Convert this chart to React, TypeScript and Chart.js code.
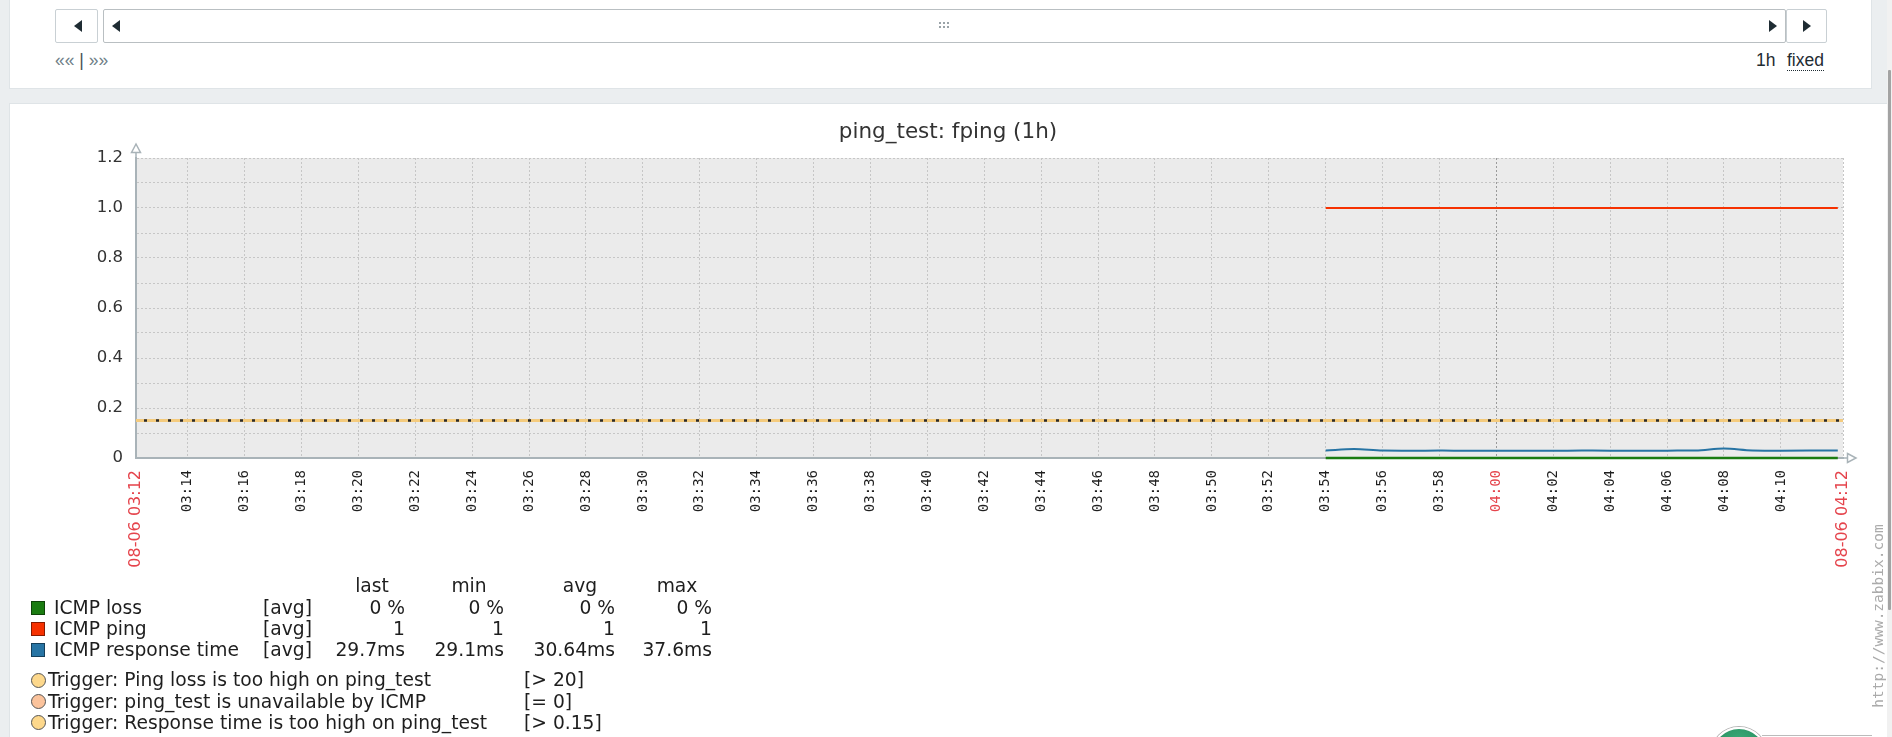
import React, { useEffect, useRef } from "react";
import { Chart, registerables } from "chart.js";

Chart.register(...registerables);

// ---------------- data ----------------
const graphTitle = "ping_test: fping (1h)";
const periodLabel = "1h";
const periodMode = "fixed";
const navLeft = "««";
const navRight = "»»";
const rangeStart = "03:12:11";
const rangeEnd = "04:12:11";
const rangeStartLabel = "08-06 03:12";
const rangeEndLabel = "08-06 04:12";
const xTickTimes = [
  "03:14", "03:16", "03:18", "03:20", "03:22", "03:24", "03:26", "03:28", "03:30", "03:32",
  "03:34", "03:36", "03:38", "03:40", "03:42", "03:44", "03:46", "03:48", "03:50", "03:52",
  "03:54", "03:56", "03:58", "04:00", "04:02", "04:04", "04:06", "04:08", "04:10",
];
const highlightedTimes = ["04:00"];
const yTickValues = [0, 0.1, 0.2, 0.3, 0.4, 0.5, 0.6, 0.7, 0.8, 0.9, 1.0, 1.1, 1.2];
const yTickLabels = ["0", "", "0.2", "", "0.4", "", "0.6", "", "0.8", "", "1.0", "", "1.2"];

const sampleTimes = [
  "03:54", "03:55", "03:56", "03:57", "03:58", "03:59", "04:00", "04:01", "04:02", "04:03",
  "04:04", "04:05", "04:06", "04:07", "04:08", "04:09", "04:10", "04:11", "04:12",
];
const icmpLoss = [0, 0, 0, 0, 0, 0, 0, 0, 0, 0, 0, 0, 0, 0, 0, 0, 0, 0, 0];
const icmpPing = [1, 1, 1, 1, 1, 1, 1, 1, 1, 1, 1, 1, 1, 1, 1, 1, 1, 1, 1];
const icmpResponseTime = [
  0.0302, 0.0358, 0.0298, 0.0294, 0.0296, 0.0293, 0.0295, 0.0292, 0.0291, 0.0296,
  0.0294, 0.0293, 0.0295, 0.0299, 0.0376, 0.0301, 0.0294, 0.0296, 0.0297,
];
const triggerThreshold = 0.15;

const seriesNames = ["ICMP loss", "ICMP ping", "ICMP response time"];
const seriesColors = ["#1A7C11", "#F63100", "#2774A4"];
const seriesFunctions = ["[avg]", "[avg]", "[avg]"];
const statHeaders = ["last", "min", "avg", "max"];
const lossStats = ["0 %", "0 %", "0 %", "0 %"];
const pingStats = ["1", "1", "1", "1"];
const responseStats = ["29.7ms", "29.1ms", "30.64ms", "37.6ms"];
const triggerNames = [
  "Trigger: Ping loss is too high on ping_test",
  "Trigger: ping_test is unavailable by ICMP",
  "Trigger: Response time is too high on ping_test",
];
const triggerConditions = ["[> 20]", "[= 0]", "[> 0.15]"];
const triggerColors = ["#FDD88C", "#FBC39C", "#FDD88C"];
const watermark = "http://www.zabbix.com";

// ---------------- helpers ----------------
const toMin = (t: string) => {
  const p = t.split(":").map(Number);
  return p[0] * 60 + p[1] + (p[2] || 0) / 60;
};
const pad2 = (n: number) => String(n).padStart(2, "0");
const xMin = toMin(rangeStart);
const xMax = toMin(rangeEnd);
const near = (a: number, b: number) => Math.abs(a - b) < 1e-6;
const isEdge = (v: number) => near(v, xMin) || near(v, xMax);
const isHighlighted = (v: number) => isEdge(v) || highlightedTimes.some((t) => near(toMin(t), v));
const xTickValues = [xMin, ...xTickTimes.map(toMin), xMax];

const AXIS = "#A9B3B8";
const GRID = "#C6C6C6";
const GRID_MAJOR = "#9A9A9A";
const RED = "#E5444C";
const FONT = "'DejaVu Sans', sans-serif";
const MONO = "'DejaVu Sans Mono', monospace";
const UI_FONT = "'Liberation Sans', Arial, sans-serif";

const plotBackground = {
  id: "plotBackground",
  beforeDraw(chart: any) {
    const { ctx, chartArea } = chart;
    ctx.save();
    ctx.fillStyle = "#EBEBEB";
    ctx.fillRect(chartArea.left, chartArea.top, chartArea.right - chartArea.left, chartArea.bottom - chartArea.top);
    ctx.restore();
  },
};

const axisArrows = {
  id: "axisArrows",
  afterDraw(chart: any) {
    const { ctx, chartArea } = chart;
    const { left, right, top, bottom } = chartArea;
    ctx.save();
    ctx.strokeStyle = AXIS;
    ctx.fillStyle = "#FFFFFF";
    ctx.lineWidth = 1.5;
    ctx.beginPath();
    ctx.moveTo(left, top);
    ctx.lineTo(left, top - 6);
    ctx.stroke();
    ctx.beginPath();
    ctx.moveTo(left - 4.5, top - 5.5);
    ctx.lineTo(left, top - 14);
    ctx.lineTo(left + 4.5, top - 5.5);
    ctx.closePath();
    ctx.fill();
    ctx.stroke();
    ctx.beginPath();
    ctx.moveTo(right, bottom);
    ctx.lineTo(right + 5, bottom);
    ctx.stroke();
    ctx.beginPath();
    ctx.moveTo(right + 4.5, bottom - 4.5);
    ctx.lineTo(right + 13, bottom);
    ctx.lineTo(right + 4.5, bottom + 4.5);
    ctx.closePath();
    ctx.fill();
    ctx.stroke();
    ctx.restore();
  },
};

function ZabbixGraph() {
  const ref = useRef<HTMLCanvasElement | null>(null);
  useEffect(() => {
    if (!ref.current) return;
    const pts = (vals: number[]) => sampleTimes.map((t, i) => ({ x: toMin(t), y: vals[i] }));
    const triggerPts = [
      { x: xMin, y: triggerThreshold },
      { x: xMax, y: triggerThreshold },
    ];
    const chart = new Chart(ref.current, {
      type: "line",
      data: {
        datasets: [
          { label: seriesNames[0], data: pts(icmpLoss), borderColor: seriesColors[0], borderWidth: 2.5, pointRadius: 0, clip: false },
          { label: seriesNames[1], data: pts(icmpPing), borderColor: seriesColors[1], borderWidth: 2.2, pointRadius: 0, clip: false },
          { label: seriesNames[2], data: pts(icmpResponseTime), borderColor: seriesColors[2], borderWidth: 2, pointRadius: 0, cubicInterpolationMode: "monotone", clip: false },
          { label: triggerNames[2], data: triggerPts, borderColor: "#2A2A2A", borderWidth: 2.4, borderDash: [3, 9], borderDashOffset: 4, pointRadius: 0, clip: false },
          { label: triggerNames[2] + " band", data: triggerPts, borderColor: "#F4CB7E", borderWidth: 3.2, pointRadius: 0, clip: false },
        ],
      },
      options: {
        animation: false,
        responsive: false,
        events: [],
        layout: { padding: { left: 44, right: 44, top: 0, bottom: 159 } },
        plugins: {
          legend: { display: false },
          tooltip: { enabled: false },
          title: {
            display: true,
            text: graphTitle,
            color: "#333333",
            font: { family: FONT, size: 21.5, weight: "normal", lineHeight: 1.2 },
            padding: { top: 17, bottom: 12.2 },
          },
        },
        scales: {
          x: {
            type: "linear",
            min: xMin,
            max: xMax,
            afterBuildTicks: (s: any) => {
              s.ticks = xTickValues.map((v) => ({ value: v }));
            },
            afterFit: (s: any) => {
              s.height = 120;
            },
            ticks: {
              autoSkip: false,
              minRotation: 90,
              maxRotation: 90,
              padding: 12,
              callback: (v: any) => {
                const n = Number(v);
                if (near(n, xMin)) return rangeStartLabel;
                if (near(n, xMax)) return rangeEndLabel;
                const m = Math.round(n);
                return pad2(Math.floor(m / 60)) + ":" + pad2(m % 60);
              },
              color: (c: any) => (c.tick && isHighlighted(c.tick.value) ? RED : "#1E1E1E"),
              font: (c: any) =>
                c.tick && isEdge(c.tick.value) ? { family: FONT, size: 16 } : { family: MONO, size: 14 },
            },
            grid: {
              drawTicks: false,
              lineWidth: 1,
              color: (c: any) => {
                if (!c.tick) return GRID;
                if (near(c.tick.value, xMin)) return "rgba(0,0,0,0)";
                if (highlightedTimes.some((t) => near(toMin(t), c.tick.value))) return GRID_MAJOR;
                return GRID;
              },
            },
            border: { display: true, color: AXIS, width: 2, dash: [2, 2] },
          },
          y: {
            type: "linear",
            min: 0,
            max: 1.2,
            afterBuildTicks: (s: any) => {
              s.ticks = yTickValues.map((v) => ({ value: v }));
            },
            afterFit: (s: any) => {
              s.width = 83;
            },
            ticks: {
              autoSkip: false,
              padding: 13,
              color: "#333333",
              font: { family: FONT, size: 16.5 },
              callback: (v: any) => {
                const i = yTickValues.findIndex((y) => near(y, Number(v)));
                return i >= 0 ? yTickLabels[i] : "";
              },
            },
            grid: {
              drawTicks: false,
              lineWidth: 1,
              color: (c: any) => (c.tick && near(c.tick.value, 0) ? "rgba(0,0,0,0)" : GRID),
            },
            border: { display: true, color: AXIS, width: 2, dash: [2, 2] },
          },
        },
      },
      plugins: [plotBackground, axisArrows],
    } as any);
    return () => chart.destroy();
  }, []);
  return (
    <canvas
      ref={ref}
      width={1878}
      height={634}
      style={{ position: "absolute", left: 9, top: 103, width: 1878, height: 634 }}
    />
  );
}

const abs = (o: any) => ({ position: "absolute" as const, whiteSpace: "nowrap" as const, ...o });

function Triangle({ x, y, dir }: { x: number; y: number; dir: "left" | "right" }) {
  const side = dir === "left" ? { borderRight: "8px solid #1F2C33" } : { borderLeft: "8px solid #1F2C33" };
  return (
    <div
      style={abs({
        left: x - 4,
        top: y - 6.5,
        width: 0,
        height: 0,
        borderTop: "6.5px solid transparent",
        borderBottom: "6.5px solid transparent",
        ...side,
      })}
    />
  );
}

function Legend() {
  const rowsY = [607.5, 628.8, 650];
  const trigY = [680, 701.5, 722.5];
  const statRight = [405, 504, 615, 712];
  const headCenter = [372, 469, 580, 677];
  const stats = [lossStats, pingStats, responseStats];
  const txt = { fontFamily: FONT, fontSize: 18.7, color: "#1E1E1E", lineHeight: "22px", height: 22 };
  return (
    <>
      {statHeaders.map((h, i) => (
        <div key={h} style={abs({ ...txt, left: headCenter[i], top: 586 - 11, transform: "translateX(-50%)" })}>{h}</div>
      ))}
      {seriesNames.map((n, r) => (
        <React.Fragment key={n}>
          <div
            style={abs({
              left: 31,
              top: rowsY[r] - 7,
              width: 12,
              height: 12,
              background: seriesColors[r],
              border: "1px solid rgba(0,0,0,0.45)",
            })}
          />
          <div style={abs({ ...txt, left: 54, top: rowsY[r] - 11 })}>{n}</div>
          <div style={abs({ ...txt, left: 263, top: rowsY[r] - 11 })}>{seriesFunctions[r]}</div>
          {stats[r].map((s, c) => (
            <div key={c} style={abs({ ...txt, left: statRight[c], top: rowsY[r] - 11, transform: "translateX(-100%)" })}>
              {s}
            </div>
          ))}
        </React.Fragment>
      ))}
      {triggerNames.map((t, r) => (
        <React.Fragment key={t}>
          <div
            style={abs({
              left: 31,
              top: trigY[r] - 7.5,
              width: 13,
              height: 13,
              borderRadius: "50%",
              background: triggerColors[r],
              border: "1px solid #555",
            })}
          />
          <div style={abs({ ...txt, left: 48, top: trigY[r] - 11 })}>{t}</div>
          <div style={abs({ ...txt, left: 524, top: trigY[r] - 11 })}>{triggerConditions[r]}</div>
        </React.Fragment>
      ))}
    </>
  );
}

export default function App() {
  const grip = [];
  for (let r = 0; r < 2; r++)
    for (let c = 0; c < 3; c++)
      grip.push(<div key={r + "-" + c} style={abs({ left: 939 + c * 4, top: 22 + r * 4, width: 2, height: 2, background: "#9AA3A8" })} />);
  return (
    <div style={{ position: "absolute", left: 0, top: 0, width: 1892, height: 737, overflow: "hidden", background: "#EBEEF0" }}>
      {/* time selector panel */}
      <div style={abs({ left: 9, top: -1, width: 1861, height: 88, background: "#FFFFFF", border: "1px solid #DFE4E7" })} />
      <div style={abs({ left: 55, top: 9, width: 41, height: 32, background: "#FFFFFF", border: "1px solid #C9D0D4", borderRadius: 2 })} />
      <Triangle x={78} y={26} dir="left" />
      <div style={abs({ left: 103, top: 9, width: 1681, height: 32, background: "#FFFFFF", border: "1px solid #B9BFC2", borderRadius: 2 })} />
      <Triangle x={116} y={26} dir="left" />
      <Triangle x={1773} y={26} dir="right" />
      {grip}
      <div style={abs({ left: 1786, top: 9, width: 39, height: 32, background: "#FFFFFF", border: "1px solid #C9D0D4", borderRadius: 2 })} />
      <Triangle x={1807} y={26} dir="right" />
      <div style={abs({ left: 55, top: 50, fontFamily: UI_FONT, fontSize: 17.5, lineHeight: "20px", color: "#6F7F88" })}>
        {navLeft} <span style={{ color: "#4A5257" }}>|</span> {navRight}
      </div>
      <div style={abs({ left: 1756, top: 50, fontFamily: UI_FONT, fontSize: 17.5, lineHeight: "20px", color: "#1F2C33" })}>
        {periodLabel}
      </div>
      <div
        style={abs({
          left: 1787,
          top: 50,
          fontFamily: UI_FONT,
          fontSize: 17.5,
          lineHeight: "20px",
          color: "#1F2C33",
          borderBottom: "1px dotted #1F2C33",
        })}
      >
        {periodMode}
      </div>

      {/* graph panel */}
      <div style={abs({ left: 9, top: 103, width: 1878, height: 660, background: "#FFFFFF", borderTop: "1px solid #DFE4E7", borderLeft: "1px solid #DFE4E7" })} />
      <ZabbixGraph />
      <Legend />
      <div
        style={abs({
          left: 1878,
          top: 616,
          fontFamily: MONO,
          fontSize: 14.5,
          lineHeight: "16px",
          color: "#ABABAB",
          transform: "translate(-50%, -50%) rotate(-90deg)",
        })}
      >
        {watermark}
      </div>
      {/* scrollbar */}
      <div style={abs({ left: 1887, top: 0, width: 5, height: 737, background: "#F1F1F1" })} />
      <div style={abs({ left: 1888, top: 70, width: 3, height: 540, background: "#A3A3A3", borderRadius: 1 })} />
      {/* footer fragment */}
      <div style={abs({ left: 1762, top: 735, width: 110, height: 1, background: "#BBBBBB" })} />
      <div
        style={abs({
          left: 1711,
          top: 727,
          width: 52,
          height: 52,
          borderRadius: "50%",
          background: "radial-gradient(circle at 50% 30%, #3FAE7C, #157A4C)",
          border: "2px solid #FFFFFF",
          boxShadow: "0 0 0 1px #B5B5B5",
        })}
      />
    </div>
  );
}
